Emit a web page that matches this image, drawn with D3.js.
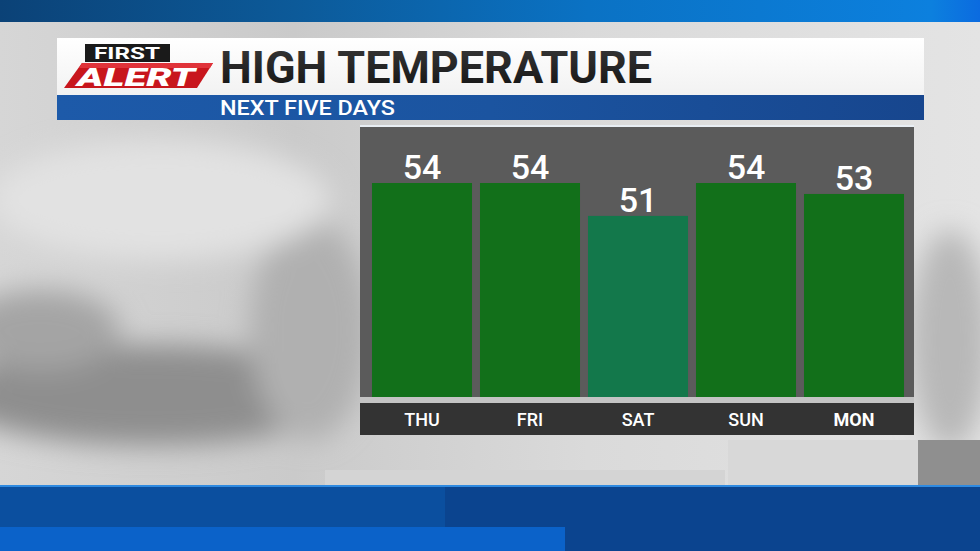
<!DOCTYPE html>
<html>
<head>
<meta charset="utf-8">
<script src="https://cdn.jsdelivr.net/npm/d3@7"></script>
<style>
  html, body { margin: 0; padding: 0; background: #ccc; }
  svg { display: block; }
</style>
</head>
<body>
<svg id="chart" width="980" height="551"></svg>
<script>
const days = ['THU', 'FRI', 'SAT', 'SUN', 'MON']
const highs = [54, 54, 51, 54, 53]
const barColors = ['#12701a', '#12701a', '#13784b', '#12701a', '#12701a']

const title = 'HIGH TEMPERATURE'
const subtitle = 'NEXT FIVE DAYS'

const svg = d3.select('#chart')
const W = 980
const H = 551
const defs = svg.append('defs')

function grad (id, stops, x2 = 1, y2 = 0) {
  const g = defs.append('linearGradient').attr('id', id)
    .attr('x1', 0).attr('y1', 0).attr('x2', x2).attr('y2', y2)
  stops.forEach(s => g.append('stop').attr('offset', s[0]).attr('stop-color', s[1]))
}
grad('bg', [[0, '#d6d6d6'], [0.3, '#cacaca'], [0.6, '#dadada'], [1, '#e4e4e4']])
grad('topbar', [[0, '#0b4277'], [0.3, '#0c5a99'], [0.6, '#0a72c4'], [0.95, '#0c80de'], [1, '#0b6be0']])
grad('subbar', [[0, '#1d5aa9'], [0.5, '#1b54a0'], [1, '#17468e']])
grad('titlebox', [[0, '#ffffff'], [1, '#f2f2f2']], 0, 1)
grad('titletext', [[0, '#3a3a3a'], [1, '#111']], 0, 1)

const blur = defs.append('filter').attr('id', 'blur')
  .attr('x', '-50%').attr('y', '-50%').attr('width', '200%').attr('height', '200%')
blur.append('feGaussianBlur').attr('stdDeviation', 14)

// background
svg.append('rect').attr('width', W).attr('height', H).attr('fill', 'url(#bg)')
const bgBlobs = [
  [150, 395, 200, 50, '#8e8e8e'],
  [40, 330, 80, 40, '#a4a4a4'],
  [310, 330, 60, 110, '#b0b0b0'],
  [160, 200, 170, 60, '#e2e2e2'],
  [950, 340, 40, 110, '#b8b8b8']
]
svg.append('g').attr('filter', 'url(#blur)').selectAll('ellipse')
  .data(bgBlobs).join('ellipse')
  .attr('cx', d => d[0]).attr('cy', d => d[1])
  .attr('rx', d => d[2]).attr('ry', d => d[3])
  .attr('fill', d => d[4])
svg.append('rect').attr('x', 325).attr('y', 470).attr('width', 400).attr('height', 15).attr('fill', '#d4d4d4')
svg.append('rect').attr('x', 728).attr('y', 440).attr('width', 190).attr('height', 45).attr('fill', '#d8d8d8')
svg.append('rect').attr('x', 918).attr('y', 440).attr('width', 62).attr('height', 45).attr('fill', '#8f8f8f')

// top and bottom blue bands
svg.append('rect').attr('width', W).attr('height', 22).attr('fill', 'url(#topbar)')
svg.append('rect').attr('y', 485).attr('width', W).attr('height', 2).attr('fill', '#2f8ae0')
svg.append('rect').attr('y', 487).attr('width', W).attr('height', 64).attr('fill', '#0b448f')
svg.append('rect').attr('y', 487).attr('width', 445).attr('height', 40).attr('fill', '#0b4f9f')
svg.append('rect').attr('y', 527).attr('width', 565).attr('height', 24).attr('fill', '#0b62c9')

// title panel
svg.append('rect').attr('x', 57).attr('y', 38).attr('width', 867).attr('height', 57).attr('fill', 'url(#titlebox)')
svg.append('rect').attr('x', 57).attr('y', 95).attr('width', 867).attr('height', 25).attr('fill', 'url(#subbar)')
svg.append('text').attr('x', 220).attr('y', 83)
  .attr('font-family', 'Roboto, sans-serif').attr('font-weight', 700)
  .attr('font-size', 45).attr('textLength', 432).attr('lengthAdjust', 'spacingAndGlyphs')
  .attr('fill', 'url(#titletext)').text(title)
svg.append('text').attr('x', 220).attr('y', 115)
  .attr('font-family', 'Roboto, sans-serif').attr('font-weight', 500)
  .attr('font-size', 21).attr('textLength', 175).attr('lengthAdjust', 'spacingAndGlyphs')
  .attr('fill', '#fff').text(subtitle)

// First Alert logo
const logo = svg.append('g')
logo.append('rect').attr('x', 85).attr('y', 44).attr('width', 85).attr('height', 18).attr('fill', '#1a1a1a')
logo.append('text').attr('x', 127).attr('y', 59).attr('text-anchor', 'middle')
  .attr('font-family', 'Roboto, sans-serif').attr('font-weight', 700).attr('font-size', 16)
  .attr('textLength', 66).attr('lengthAdjust', 'spacingAndGlyphs')
  .attr('fill', '#fff').text('FIRST')
logo.append('path').attr('d', 'M82,63 L213,63 L197,88 L64,88 Z').attr('fill', '#c8161d')
logo.append('path').attr('d', 'M82,63 L213,63 L210,68 L79,68 Z').attr('fill', '#e0333a')
logo.append('text').attr('x', 136).attr('y', 86).attr('text-anchor', 'middle')
  .attr('font-family', 'Roboto, sans-serif').attr('font-weight', 900).attr('font-style', 'italic')
  .attr('font-size', 26).attr('textLength', 118).attr('lengthAdjust', 'spacingAndGlyphs')
  .attr('fill', '#fff').text('ALERT')

// chart panel
const panel = { x: 360, y: 127, w: 554, h: 270 }
svg.append('rect').attr('x', panel.x).attr('y', panel.y - 2).attr('width', panel.w).attr('height', 2).attr('fill', '#e8eef4')
svg.append('rect').attr('x', panel.x).attr('y', panel.y).attr('width', panel.w).attr('height', panel.h).attr('fill', '#5b5b5b')
svg.append('rect').attr('x', panel.x).attr('y', 397).attr('width', panel.w).attr('height', 6).attr('fill', '#c4c4c4')
svg.append('rect').attr('x', panel.x).attr('y', 403).attr('width', panel.w).attr('height', 32).attr('fill', '#333')

const x = d3.scaleBand().domain(days).range([368, 908]).paddingInner(0.074).paddingOuter(0.037)
const y = d3.scaleLinear().domain([34.5, 54]).range([397, 183])

const data = days.map((d, i) => ({ day: d, high: highs[i], color: barColors[i] }))

svg.append('g').selectAll('rect').data(data).join('rect')
  .attr('x', d => x(d.day)).attr('y', d => y(d.high))
  .attr('width', x.bandwidth()).attr('height', d => y.range()[0] - y(d.high))
  .attr('fill', d => d.color)

svg.append('g').selectAll('text').data(data).join('text')
  .attr('x', d => x(d.day) + x.bandwidth() / 2).attr('y', d => y(d.high) - 4)
  .attr('text-anchor', 'middle')
  .attr('font-family', 'Roboto, sans-serif').attr('font-weight', 500).attr('font-size', 34)
  .attr('fill', '#fff').text(d => d.high)

const xAxis = svg.append('g').attr('transform', 'translate(0,426)')
  .call(d3.axisBottom(x).tickSize(0).tickPadding(0))
xAxis.select('.domain').remove()
xAxis.selectAll('text')
  .attr('dy', 0).attr('y', 0)
  .attr('font-family', 'Roboto, sans-serif').attr('font-size', 18)
  .attr('font-weight', d => d === 'MON' ? 700 : 500)
  .attr('fill', '#fff')
</script>
</body>
</html>
